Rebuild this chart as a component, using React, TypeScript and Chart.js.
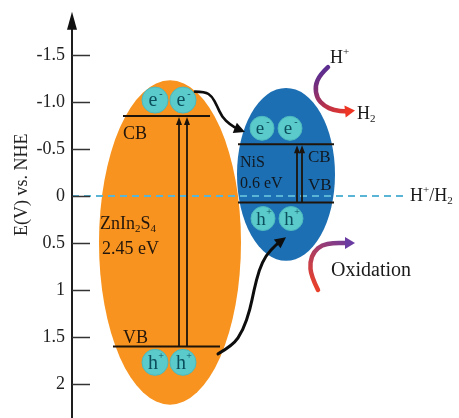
import React, { useEffect, useRef } from "react";
import { Chart, registerables } from "chart.js";

Chart.register(...registerables);

// ---------- data ----------
const tickValues = [-1.5, -1.0, -0.5, 0, 0.5, 1, 1.5, 2];
const tickLabels = ["-1.5", "-1.0", "-0.5", "0", "0.5", "1", "1.5", "2"];
const materials = ["ZnIn2S4", "NiS"];
const cbPotentials = [-0.85, -0.55];
const vbPotentials = [1.6, 0.07];
const gapLabels = ["2.45 eV", "0.6 eV"];
const redoxPotential = 0;
const redoxLabel = "H+/H2";
const reductionSpecies = ["H+", "H2"];
const oxidationLabel = "Oxidation";
const axisTitle = "E(V) vs. NHE";

// ---------- layout (positions / styles) ----------
const SERIF = "'Liberation Serif', 'Times New Roman', serif";
const DARK = "#23160c";
const INK = "#1a1a1a";
const Y_MIN = -2.085;
const Y_MAX = 2.362;
const X_MIN = 72;
const X_MAX = 459;
const AXIS_TIP = -1.96;
const CARRIER_OFFSET = 0.17;
const TITLE_POS = { x: 22, v: -0.12 };

const shapes = [
  {
    cx: 170, rx: 71, top: -1.23, bottom: 2.22, fill: "#F7931E",
    cbX: [123, 210], vbX: [113, 220], carrierX: [155, 183], carrierR: 13, pumpX: [179, 187],
    cbLabel: { x: 123, v: -0.66 }, vbLabel: { x: 123, v: 1.51 },
    nameLabel: { x: 100, v: 0.3, size: 18 }, gapLabel: { x: 102, v: 0.57, size: 18 },
    bandLabelSize: 18, textColor: DARK,
  },
  {
    cx: 286, rx: 49, top: -1.15, bottom: 0.69, fill: "#1C6FB3",
    cbX: [238, 334], vbX: [238, 334], carrierX: [262, 290], carrierR: 12, pumpX: [297, 302],
    cbLabel: { x: 308, v: -0.41 }, vbLabel: { x: 308, v: -0.11 },
    nameLabel: { x: 240, v: -0.35, size: 16 }, gapLabel: { x: 240, v: -0.13, size: 16 },
    bandLabelSize: 17, textColor: "#111820",
  },
];

const transferArrows = [
  { pts: [[195, -1.11], [205, -1.11], [212, -1.06], [217, -0.96], [222, -0.84], [230, -0.76], [238, -0.71], [245, -0.68]], width: 2.6 },
  { pts: [[218, 1.68], [233, 1.59], [243, 1.43], [250, 1.21], [254, 1.0], [259, 0.79], [266, 0.63], [276, 0.52], [286, 0.44]], width: 3 },
];
const redArrows = [
  { pts: [[328, -1.37], [320, -1.29], [315, -1.17], [317, -1.04], [324, -0.96], [334, -0.91], [346, -0.9], [355, -0.91]], from: "#5B2D90", to: "#EE3524" },
  { pts: [[318, 1.0], [311, 0.85], [310, 0.7], [314, 0.59], [322, 0.52], [333, 0.5], [345, 0.5], [355, 0.5]], from: "#E8402A", to: "#6A3BA0" },
];
const speciesPos = [
  { x: 330, v: -1.47 },
  { x: 357, v: -0.87 },
];
const redoxLabelPos = { x: 410, v: 0 };
const oxidationPos = { x: 331, v: 0.8 };

type Part = { t: string; s?: "sub" | "sup" };

function parseFormula(str: string): Part[] {
  const parts: Part[] = [];
  for (const ch of str) {
    let s: Part["s"] = undefined;
    if (/[0-9]/.test(ch)) s = "sub";
    else if (ch === "+" || ch === "-") s = "sup";
    const last = parts[parts.length - 1];
    if (last && last.s === s) last.t += ch;
    else parts.push({ t: ch, s });
  }
  return parts;
}

function drawRich(ctx: CanvasRenderingContext2D, x: number, y: number, parts: Part[], size: number, color: string) {
  ctx.save();
  ctx.fillStyle = color;
  ctx.textBaseline = "middle";
  ctx.textAlign = "left";
  let cx = x;
  for (const p of parts) {
    const fs = p.s ? Math.round(size * 0.62) : size;
    ctx.font = `${fs}px ${SERIF}`;
    const dy = p.s === "sub" ? size * 0.3 : p.s === "sup" ? -size * 0.32 : 0;
    ctx.fillText(p.t, cx, y + dy);
    cx += ctx.measureText(p.t).width;
  }
  ctx.restore();
}

function smoothStroke(ctx: CanvasRenderingContext2D, pts: number[][]) {
  ctx.beginPath();
  ctx.moveTo(pts[0][0], pts[0][1]);
  for (let i = 1; i < pts.length - 1; i++) {
    const mx = (pts[i][0] + pts[i + 1][0]) / 2;
    const my = (pts[i][1] + pts[i + 1][1]) / 2;
    ctx.quadraticCurveTo(pts[i][0], pts[i][1], mx, my);
  }
  ctx.lineTo(pts[pts.length - 1][0], pts[pts.length - 1][1]);
  ctx.stroke();
}

function curvedArrow(ctx: CanvasRenderingContext2D, pts: number[][], width: number, stroke: string | CanvasGradient, head: string, headLen: number, headW: number) {
  const n = pts.length;
  const tip = pts[n - 1];
  const prev = pts[n - 2];
  let dx = tip[0] - prev[0];
  let dy = tip[1] - prev[1];
  const len = Math.hypot(dx, dy) || 1;
  dx /= len;
  dy /= len;
  const base = [tip[0] - dx * headLen, tip[1] - dy * headLen];
  const line = pts.slice(0, n - 1).concat([[tip[0] - dx * headLen * 0.7, tip[1] - dy * headLen * 0.7]]);
  ctx.save();
  ctx.lineWidth = width;
  ctx.lineCap = "round";
  ctx.lineJoin = "round";
  ctx.strokeStyle = stroke;
  smoothStroke(ctx, line);
  ctx.beginPath();
  ctx.moveTo(tip[0], tip[1]);
  ctx.lineTo(base[0] - dy * headW, base[1] + dx * headW);
  ctx.lineTo(base[0] + dy * headW, base[1] - dx * headW);
  ctx.closePath();
  ctx.fillStyle = head;
  ctx.fill();
  ctx.restore();
}

const diagramPlugin = {
  id: "bandDiagram",
  beforeDatasetsDraw(chart: any) {
    const { ctx, scales } = chart;
    const x = scales.x;
    const y = scales.y;
    ctx.save();
    shapes.forEach((s) => {
      const top = y.getPixelForValue(s.top);
      const bot = y.getPixelForValue(s.bottom);
      const cx = x.getPixelForValue(s.cx);
      ctx.beginPath();
      ctx.ellipse(cx, (top + bot) / 2, x.getPixelForValue(s.cx + s.rx) - cx, (bot - top) / 2, 0, 0, Math.PI * 2);
      ctx.fillStyle = s.fill;
      ctx.fill();
    });
    ctx.restore();
  },
  afterDatasetsDraw(chart: any) {
    const { ctx, scales, chartArea } = chart;
    const x = scales.x;
    const y = scales.y;
    const X = (v: number) => x.getPixelForValue(v);
    const Y = (v: number) => y.getPixelForValue(v);

    // axis title
    ctx.save();
    ctx.translate(TITLE_POS.x, Y(TITLE_POS.v));
    ctx.rotate(-Math.PI / 2);
    ctx.fillStyle = "#222";
    ctx.font = `18px ${SERIF}`;
    ctx.textAlign = "center";
    ctx.textBaseline = "middle";
    ctx.fillText(axisTitle, 0, 0);
    ctx.restore();

    // axis line with arrow
    const ax = chartArea.left;
    const tip = Y(AXIS_TIP);
    ctx.save();
    ctx.strokeStyle = "#1e1e1e";
    ctx.lineWidth = 2;
    ctx.beginPath();
    ctx.moveTo(ax, chart.height);
    ctx.lineTo(ax, tip + 12);
    ctx.stroke();
    ctx.fillStyle = "#111";
    ctx.beginPath();
    ctx.moveTo(ax, tip);
    ctx.lineTo(ax - 5, tip + 18);
    ctx.lineTo(ax + 5, tip + 18);
    ctx.closePath();
    ctx.fill();
    // tick marks (inside)
    ctx.strokeStyle = "#333";
    ctx.lineWidth = 1.5;
    tickValues.forEach((v) => {
      const py = Math.round(Y(v)) + 0.5;
      ctx.beginPath();
      ctx.moveTo(ax, py);
      ctx.lineTo(ax + 18, py);
      ctx.stroke();
    });
    ctx.restore();

    // excitation arrows
    shapes.forEach((s, i) => {
      const cb = Y(cbPotentials[i]);
      const vb = Y(vbPotentials[i]);
      ctx.save();
      ctx.strokeStyle = "#1c140c";
      ctx.fillStyle = "#1c140c";
      ctx.lineWidth = 1.8;
      s.pumpX.forEach((px) => {
        const p = X(px);
        ctx.beginPath();
        ctx.moveTo(p, vb);
        ctx.lineTo(p, cb + 6);
        ctx.stroke();
        ctx.beginPath();
        ctx.moveTo(p, cb + 1);
        ctx.lineTo(p - 3, cb + 9);
        ctx.lineTo(p + 3, cb + 9);
        ctx.closePath();
        ctx.fill();
      });
      ctx.restore();
    });

    // carrier labels
    chart.data.datasets.forEach((ds: any, i: number) => {
      if (!ds.carrier) return;
      const meta = chart.getDatasetMeta(i);
      meta.data.forEach((el: any) => {
        ctx.save();
        ctx.fillStyle = "#0b4f5c";
        ctx.textAlign = "center";
        ctx.textBaseline = "middle";
        ctx.font = `${ds.carrierFont}px ${SERIF}`;
        ctx.fillText(ds.carrier, el.x - 2, el.y + 1);
        ctx.font = `${Math.round(ds.carrierFont * 0.5)}px ${SERIF}`;
        ctx.fillText(ds.carrier === "e" ? "-" : "+", el.x + 6, el.y - 6);
        ctx.restore();
      });
    });

    // band / material labels
    shapes.forEach((s, i) => {
      drawRich(ctx, X(s.cbLabel.x), Y(s.cbLabel.v), [{ t: "CB" }], s.bandLabelSize, s.textColor);
      drawRich(ctx, X(s.vbLabel.x), Y(s.vbLabel.v), [{ t: "VB" }], s.bandLabelSize, s.textColor);
      drawRich(ctx, X(s.nameLabel.x), Y(s.nameLabel.v), parseFormula(materials[i]), s.nameLabel.size, s.textColor);
      drawRich(ctx, X(s.gapLabel.x), Y(s.gapLabel.v), [{ t: gapLabels[i] }], s.gapLabel.size, s.textColor);
    });

    // charge transfer arrows
    transferArrows.forEach((a) => {
      const pts = a.pts.map((p) => [X(p[0]), Y(p[1])]);
      curvedArrow(ctx, pts, a.width, "#0d0d0d", "#0d0d0d", 11, 5.5);
    });

    // reaction arrows
    redArrows.forEach((a) => {
      const pts = a.pts.map((p) => [X(p[0]), Y(p[1])]);
      const g = ctx.createLinearGradient(pts[0][0], pts[0][1], pts[pts.length - 1][0], pts[pts.length - 1][1]);
      g.addColorStop(0, a.from);
      g.addColorStop(1, a.to);
      curvedArrow(ctx, pts, 4.5, g, a.to, 10, 6);
    });

    // species labels
    reductionSpecies.forEach((sp, i) => {
      drawRich(ctx, X(speciesPos[i].x), Y(speciesPos[i].v), parseFormula(sp), 18, INK);
    });
    drawRich(ctx, X(redoxLabelPos.x), Y(redoxLabelPos.v), parseFormula(redoxLabel.replace("/", "")).flatMap((p, idx) => (idx === 2 ? [{ t: "/" }, p] : [p])), 18, INK);
    drawRich(ctx, X(oxidationPos.x), Y(oxidationPos.v), [{ t: oxidationLabel }], 20, INK);
  },
};

export default function App() {
  const ref = useRef<HTMLCanvasElement>(null);
  useEffect(() => {
    document.body.style.margin = "0";
    const canvas = ref.current;
    if (!canvas) return;

    const datasets: any[] = [];
    shapes.forEach((s, i) => {
      datasets.push({
        data: [{ x: s.cbX[0], y: cbPotentials[i] }, { x: s.cbX[1], y: cbPotentials[i] }],
        showLine: true, borderColor: "#1f140a", borderWidth: 2, pointRadius: 0,
      });
      datasets.push({
        data: [{ x: s.vbX[0], y: vbPotentials[i] }, { x: s.vbX[1], y: vbPotentials[i] }],
        showLine: true, borderColor: "#1f140a", borderWidth: 2, pointRadius: 0,
      });
      datasets.push({
        data: s.carrierX.map((cx) => ({ x: cx, y: cbPotentials[i] - CARRIER_OFFSET })),
        pointRadius: s.carrierR, backgroundColor: "#5ACACB", borderColor: "#4DB9BE", borderWidth: 1,
        carrier: "e", carrierFont: i === 0 ? 20 : 19,
      });
      datasets.push({
        data: s.carrierX.map((cx) => ({ x: cx + (i === 0 ? 0 : 1), y: vbPotentials[i] + CARRIER_OFFSET })),
        pointRadius: s.carrierR, backgroundColor: "#5ACACB", borderColor: "#4DB9BE", borderWidth: 1,
        carrier: "h", carrierFont: i === 0 ? 20 : 19,
      });
    });
    datasets.push({
      data: [{ x: X_MIN, y: redoxPotential }, { x: 403, y: redoxPotential }],
      showLine: true, borderColor: "#5AB4D6", borderWidth: 2, borderDash: [7, 5], pointRadius: 0,
    });

    const chart = new Chart(canvas, {
      type: "scatter",
      data: { datasets },
      options: {
        animation: false,
        responsive: false,
        maintainAspectRatio: false,
        events: [],
        layout: { padding: 0, autoPadding: false },
        plugins: { legend: { display: false }, tooltip: { enabled: false }, title: { display: false } },
        scales: {
          x: { type: "linear", display: false, min: X_MIN, max: X_MAX },
          y: {
            type: "linear",
            reverse: true,
            min: Y_MIN,
            max: Y_MAX,
            afterBuildTicks: (s: any) => {
              s.ticks = tickValues.map((v) => ({ value: v }));
            },
            afterFit: (s: any) => {
              s.width = X_MIN;
              s.paddingTop = 0;
              s.paddingBottom = 0;
            },
            ticks: {
              autoSkip: false,
              padding: 7,
              color: "#222",
              font: { family: SERIF, size: 18 },
              callback: (v: any) => {
                const idx = tickValues.findIndex((t) => Math.abs(t - Number(v)) < 1e-9);
                return idx >= 0 ? tickLabels[idx] : "";
              },
            },
            grid: { display: false, drawTicks: false, drawOnChartArea: false },
            border: { display: false },
            title: { display: false },
          },
        },
      },
      plugins: [diagramPlugin],
    } as any);
    return () => chart.destroy();
  }, []);
  return <canvas ref={ref} width={459} height={418} style={{ display: "block", width: 459, height: 418 }} />;
}
